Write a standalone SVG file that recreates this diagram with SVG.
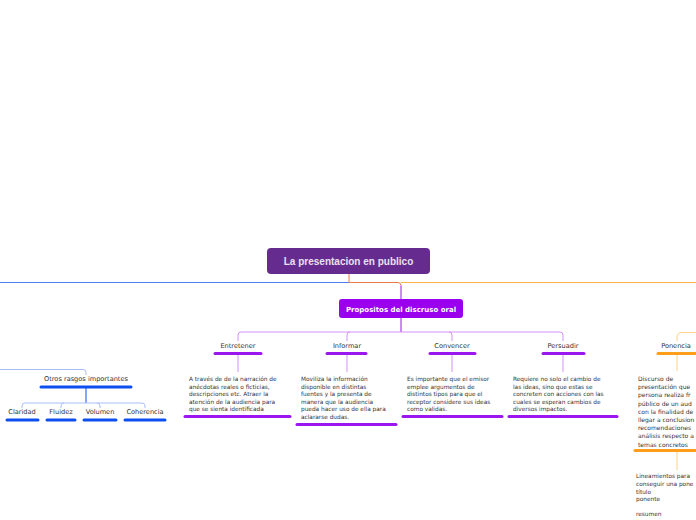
<svg xmlns="http://www.w3.org/2000/svg" width="696" height="520" viewBox="0 0 696 520">
<style>
text{font-family:"DejaVu Sans","Liberation Sans",sans-serif;fill:#333}
.lbl{font-size:6.6px;text-anchor:middle}
.sm{font-size:5.8px}
.po{font-size:6px}
.bar{fill:none;stroke-width:3;stroke-linecap:round}
.pb{stroke:#9b17f0}
.bb{stroke:#0c4ff0}
.ob{stroke:#ff9e1a}
.ln{fill:none;stroke-width:1}
</style>
<rect width="696" height="520" fill="#fff"/>
<g id="connectors">
<path class="ln" d="M0 282.5H349" stroke="#4d7ff2" stroke-width="1.2"/>
<path class="ln" d="M401 282.5H696" stroke="#ffb545" stroke-width="1.2"/>
<path class="ln" d="M349 274V282.5H398Q401 282.5 401 285.5" stroke="#ee7a48" stroke-width="1.2"/>
<path class="ln" d="M401 285.5V299" stroke="#9b17f0" stroke-width="1.2"/>
<path class="ln" d="M401 318V332" stroke="#9b17f0" stroke-width="1.2"/>
<path class="ln" d="M238 341V335Q238 332 241 332H560Q563 332 563 335V341" stroke="#d391f7"/>
<path class="ln" d="M347 341V335Q347 332 350 332" stroke="#d391f7"/>
<path class="ln" d="M452 341V335Q452 332 449 332" stroke="#d391f7"/>
<path class="ln" d="M238 355V372M347 355V372M452 355V372M563 355V372" stroke="#d391f7"/>
<path class="ln" d="M0 369.5H83Q86 369.5 86 372.5V375" stroke="#a9bff7"/>
<path class="ln" d="M86 388V403" stroke="#0c4ff0" stroke-width="1.2"/>
<path class="ln" d="M22 408V406Q22 403 25 403H142Q145 403 145 406V408" stroke="#a9bff7"/>
<path class="ln" d="M61 408V406Q61 403 64 403M100 408V406Q100 403 97 403" stroke="#a9bff7"/>
<path class="ln" d="M696 332.5H682Q677 332.5 677 337V341" stroke="#ffd089"/>
<path class="ln" d="M677 355V371M677 452V470" stroke="#ffd089"/>
</g>
<g id="central">
<rect x="267" y="248" width="163" height="26" rx="4" fill="#652b8f"/>
<text x="348.5" y="264.5" style="font-family:'Liberation Sans',sans-serif;font-size:10px;font-weight:bold;text-anchor:middle;fill:#e9e0f2">La presentacion en publico</text>
</g>
<g id="propositos">
<rect x="339" y="299" width="124" height="19" rx="3" fill="#9b00ee"/>
<text x="401" y="311.5" style="font-size:7px;font-weight:bold;text-anchor:middle;fill:#fff">Propositos del discruso oral</text>
</g>
<g id="entretener">
<text class="lbl" x="238" y="348">Entretener</text>
<path class="bar pb" d="M215 353.5H261"/>
<text class="sm"><tspan x="189" y="381">A través de de la narración de</tspan><tspan x="189" y="388.6">anécdotas reales o ficticias,</tspan><tspan x="189" y="396.2">descripciones etc. Atraer la</tspan><tspan x="189" y="403.8">atención de la audiencia para</tspan><tspan x="189" y="411.4">que se sienta identificada</tspan></text>
<path class="bar pb" d="M185 416.5H290"/>
</g>
<g id="informar">
<text class="lbl" x="347" y="348">Informar</text>
<path class="bar pb" d="M327 353.5H366"/>
<text class="sm"><tspan x="301" y="381">Moviliza la información</tspan><tspan x="301" y="388.6">disponible en distintas</tspan><tspan x="301" y="396.2">fuentes y la presenta de</tspan><tspan x="301" y="403.8">manera que la audiencia</tspan><tspan x="301" y="411.4">pueda hacer uso de ella para</tspan><tspan x="301" y="419">aclararse dudas.</tspan></text>
<path class="bar pb" d="M297 424.5H396"/>
</g>
<g id="convencer">
<text class="lbl" x="452" y="348">Convencer</text>
<path class="bar pb" d="M430 353.5H475"/>
<text class="sm"><tspan x="407" y="381">Es importante que el emisor</tspan><tspan x="407" y="388.6">emplee argumentos de</tspan><tspan x="407" y="396.2">distintos tipos para que el</tspan><tspan x="407" y="403.8">receptor considere sus ideas</tspan><tspan x="407" y="411.4">como validas.</tspan></text>
<path class="bar pb" d="M403 416.5H502"/>
</g>
<g id="persuadir">
<text class="lbl" x="563" y="348">Persuadir</text>
<path class="bar pb" d="M543 353.5H584"/>
<text class="sm"><tspan x="513" y="381">Requiere no solo el cambio de</tspan><tspan x="513" y="388.6">las ideas, sino que estas se</tspan><tspan x="513" y="396.2">concreten con acciones con las</tspan><tspan x="513" y="403.8">cuales se esperan cambios de</tspan><tspan x="513" y="411.4">diversos impactos.</tspan></text>
<path class="bar pb" d="M509 416.5H617"/>
</g>
<g id="otros">
<text class="lbl" x="86" y="381">Otros rasgos importantes</text>
<path class="bar bb" d="M41 387H131"/>
</g>
<g id="claridad">
<text class="lbl" x="22" y="414">Claridad</text>
<path class="bar bb" d="M7 420H38"/>
</g>
<g id="fluidez">
<text class="lbl" x="61" y="414">Fluidez</text>
<path class="bar bb" d="M47 420H75"/>
</g>
<g id="volumen">
<text class="lbl" x="100" y="414">Volumen</text>
<path class="bar bb" d="M84 420H116"/>
</g>
<g id="coherencia">
<text class="lbl" x="145" y="414">Coherencia</text>
<path class="bar bb" d="M125 420H165"/>
</g>
<g id="ponencia">
<text class="lbl" x="676" y="348">Ponencia</text>
<path class="bar ob" d="M658 353.5H698"/>
<text class="po"><tspan x="638" y="381">Discurso de</tspan><tspan x="638" y="389.2">presentación que</tspan><tspan x="638" y="397.4">persona realiza fr</tspan><tspan x="638" y="405.6">público de un aud</tspan><tspan x="638" y="413.8">con la finalidad de</tspan><tspan x="638" y="422">llegar a conclusion</tspan><tspan x="638" y="430.2">recomendaciones</tspan><tspan x="638" y="438.4">análisis respecto a</tspan><tspan x="638" y="446.6">temas concretos</tspan></text>
<path class="bar ob" d="M635 450.5H698"/>
</g>
<g id="lineamientos">
<text class="sm"><tspan x="636" y="478">Lineamientos para</tspan><tspan x="636" y="486">conseguir una pone</tspan><tspan x="636" y="493.5">título</tspan><tspan x="636" y="501">ponente</tspan><tspan x="636" y="516">resumen</tspan></text>
</g>
</svg>
